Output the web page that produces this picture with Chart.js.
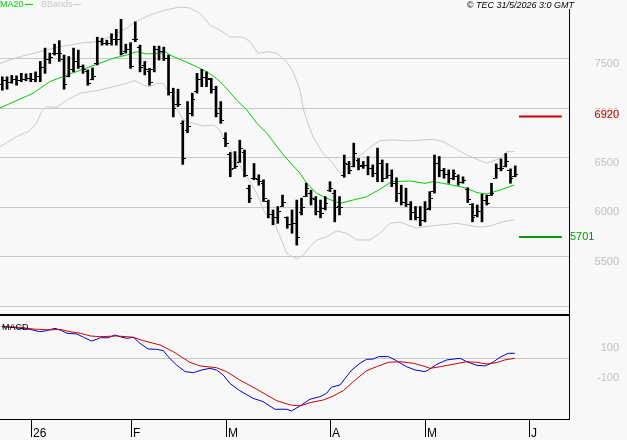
<!DOCTYPE html>
<html>
<head>
<meta charset="utf-8">
<script src="https://cdn.jsdelivr.net/npm/chart.js@4"></script>
<style>
  html, body { margin: 0; padding: 0; background: #f8f8f8; }
  #wrap { position: relative; width: 627px; height: 440px; overflow: hidden; }
  canvas { position: absolute; left: 0; }
  #main { top: 0; }
  #macd { top: 314px; }
</style>
</head>
<body>
<div id="wrap">
  <canvas id="main" width="627" height="314"></canvas>
  <canvas id="macd" width="627" height="126"></canvas>
</div>
<script>
// daily OHLC, one entry per trading day (index 0 = late Dec 2025)
const opens = [7250,7290,7270,7300,7290,7300,7310,7300,7330,7420,7500,7560,7560,7500,7330,7400,7480,7430,7380,7300,
  7460,7680,7660,7660,7700,7700,7580,7600,7700,7620,7440,7380,7400,7600,7580,7510,7170,7050,6850,6780,
  6950,7180,7300,7320,7300,7200,7000,6700,6540,6400,6460,6560,6200,6300,6290,6250,6070,5930,5900,6020,
  5900,5830,5840,5950,6120,6150,6090,5960,5990,6180,6150,6020,6330,6440,6420,6480,6430,6430,6400,6350,
  6450,6300,6330,6250,6150,6060,6040,5950,5900,5870,5990,6170,6450,6380,6340,6300,6320,6260,6190,6040,
  5920,5960,6080,6130,6300,6400,6420,6380,6320];
const highs = [7320,7320,7335,7330,7355,7350,7355,7370,7475,7610,7560,7650,7685,7540,7525,7610,7590,7440,7390,7410,
  7720,7710,7690,7755,7800,7900,7650,7665,7875,7640,7475,7405,7630,7630,7620,7540,7205,7195,6875,7070,
  7155,7355,7395,7370,7305,7225,7070,6755,6555,6565,6680,6580,6225,6445,6330,6280,6075,5975,6010,6125,
  5905,5975,6075,6095,6245,6175,6110,6075,6110,6260,6175,6110,6530,6465,6650,6495,6465,6515,6430,6600,
  6480,6445,6380,6300,6225,6195,6060,6010,6010,6060,6160,6530,6515,6395,6380,6380,6330,6310,6200,6040,
  6025,6135,6125,6245,6440,6490,6545,6390,6420];
const lows = [7185,7195,7255,7235,7270,7280,7270,7270,7270,7355,7455,7540,7475,7195,7320,7370,7405,7355,7235,7290,
  7440,7640,7640,7640,7640,7540,7560,7405,7675,7370,7340,7235,7370,7490,7485,7135,6915,7020,6435,6755,
  6925,7155,7220,7220,7155,6915,6850,6615,6310,6395,6455,6310,6050,6280,6225,6060,5895,5825,5840,6010,
  5790,5740,5620,5925,6110,6025,5925,5895,5975,6160,5855,5925,6305,6340,6410,6380,6395,6330,6310,6260,
  6260,6295,6210,6060,6025,6010,5875,5875,5815,5855,5975,6145,6310,6295,6245,6280,6225,6245,6050,5855,
  5905,5855,6025,6120,6295,6370,6410,6245,6310];
const closes = [7290,7270,7300,7290,7300,7310,7300,7330,7420,7500,7520,7560,7560,7250,7400,7480,7430,7400,7260,7330,
  7680,7660,7660,7700,7700,7560,7600,7430,7700,7420,7400,7270,7600,7580,7510,7170,7000,7050,6500,6820,
  7100,7300,7320,7310,7200,6950,6880,6650,6390,6420,6600,6330,6100,6300,6270,6100,5930,5900,5960,6060,
  5830,5840,5700,6000,6200,6100,5960,5940,6050,6200,6000,6000,6450,6380,6550,6420,6430,6400,6350,6450,
  6300,6330,6250,6150,6060,6040,5950,5900,5870,5980,6100,6450,6380,6340,6300,6350,6260,6280,6090,5900,
  5960,6080,6050,6150,6400,6400,6470,6300,6340];

// [day index, value]
const ma20 = [[-0.5,7005],[6.5,7154],[10,7271],[13.6,7338],[17,7396],[19.9,7447],[23.3,7507],[26.2,7540],[28.3,7574],
  [30.4,7551],[33.2,7558],[34.3,7574],[35.3,7540],[37.4,7497],[40.9,7422],[43,7372],[45.1,7305],[47.2,7204],
  [49.3,7086],[51.5,6985],[53.6,6851],[55.7,6750],[59.2,6530],[62.7,6345],[64.1,6244],[66.2,6143],[68.3,6093],
  [71.1,6042],[73.9,6076],[76.7,6109],[79.5,6184],[82,6261],[85.8,6268],[89,6244],[90.7,6261],[92.8,6244],
  [95.7,6217],[97.8,6194],[99.9,6150],[102,6136],[103,6150],[104.8,6177],[107.8,6227]];
const bbUpper = [[-0.5,7457],[3.7,7523],[7.9,7574],[12.1,7624],[16.4,7659],[19.9,7675],[22.7,7725],[26.2,7810],
  [27.9,7874],[31.1,7944],[34.3,7995],[37.4,8025],[39.5,8015],[41.6,7962],[43.7,7843],[45.8,7793],[47.9,7725],
  [50.7,7719],[52.2,7675],[53.8,7558],[55.9,7574],[57.8,7558],[59.9,7473],[61.2,7372],[62.7,7187],[63.3,7005],
  [64.1,6884],[65.4,6715],[67.5,6547],[69.6,6446],[71.1,6345],[72.5,6396],[74.6,6497],[76.7,6581],[79.5,6675],
  [82.2,6682],[85.8,6672],[90.7,6689],[92.8,6665],[97.8,6530],[102,6446],[104.8,6497],[106.2,6564],[107.9,6564]];
const bbLower = [[-0.5,6614],[3,6715],[5.8,6776],[7.2,6851],[8.3,6968],[9.3,7018],[11.5,7012],[13.6,7086],
  [16.4,7154],[20.6,7187],[23.3,7220],[26.2,7255],[27.9,7283],[29.7,7237],[31.1,7220],[32.5,7255],[33.9,7255],
  [35,7170],[36,7053],[38.1,6884],[40.2,6851],[42.3,6823],[44.4,6833],[45.8,6783],[47.2,6649],[49.3,6480],
  [51.5,6311],[53.6,6143],[55.3,5941],[57.1,5874],[59.9,5537],[62,5480],[63.4,5520],[64.8,5604],[66.2,5672],
  [68.3,5705],[70.4,5763],[72.5,5739],[74.6,5672],[77.4,5672],[79.5,5739],[81.6,5840],[83.7,5854],[87.2,5790],
  [88.6,5806],[92.2,5823],[95.7,5840],[97.8,5823],[100.6,5800],[102.7,5813],[105.5,5857],[107.8,5874]];

const resistance = 6920;
const support = 5701;
const levelSpan = [108.8, 117.8];

const macdLine = [[-0.1,211],[1.6,207],[3.7,200],[5.8,193],[7.9,177],[9.3,184],[11.1,200],[12.5,184],[13.6,167],
  [15.7,162],[17.1,140],[18.8,115],[19.9,127],[20.6,137],[22.3,137],[23.7,155],[24.8,144],[26.2,133],[27.6,140],
  [29,100],[30.7,62],[32.5,60],[33.9,51],[34.9,11],[36.7,-45],[38.5,-89],[40.2,-96],[42,-78],[43.7,-67],[45.1,-78],
  [46.5,-111],[47.9,-167],[50,-216],[52.8,-267],[54.9,-289],[57.4,-340],[59.9,-340],[60.9,-351],[62.7,-318],
  [64.8,-273],[66.9,-256],[68.3,-233],[69.3,-193],[71.1,-178],[72.2,-133],[73.6,-78],[75.3,-33],[76.7,-7],
  [78.1,-5],[79.2,11],[81.3,11],[82.7,-11],[85.1,-56],[86.9,-78],[89,-89],[89.7,-78],[91.5,-40],[93.6,-11],
  [96.4,0],[97.8,-23],[99.9,-47],[101.6,-51],[103,-33],[104.8,7],[106.5,33],[107.9,33]];
const signalLine = [[-0.1,211],[3.7,207],[6.5,195],[10,189],[12.1,193],[14.3,177],[16.4,167],[18.5,149],[20.6,144],
  [24.1,149],[27.6,140],[29.7,117],[33.2,89],[36,44],[39.5,-27],[41.6,-51],[45.1,-63],[47.2,-89],[50,-145],
  [53.6,-207],[55.7,-245],[57.8,-283],[60.6,-311],[62.7,-318],[64.8,-296],[67.6,-278],[69.7,-251],[71.8,-216],
  [73.9,-156],[76.7,-83],[78.8,-56],[81.3,-27],[83.7,-23],[86.5,-33],[88.6,-51],[90.1,-67],[92.2,-56],[94.9,-40],
  [97.8,-23],[99.9,-27],[102,-38],[104.1,-29],[105.8,-11],[107.9,0]];

const priceGrid = [5000, 5500, 6000, 6500, 7000, 7500];
const priceLabels = ['', '5500', '6000', '6500', '7000', '7500'];
const macdLabels = [100, -100];
const monthIdx = [6, 27, 47, 69, 89, 111];
const monthLabels = ['26', 'F', 'M', 'A', 'M', 'J'];

const X_MIN = -0.484, X_MAX = 119.32;
const FONT = "'Liberation Sans', Arial, sans-serif";
const pts = arr => arr.map(([x, y]) => ({ x, y }));

// open tick on the left, close tick on the right of each bar
const ohlcTicks = {
  id: 'ohlcTicks',
  afterDatasetsDraw(chart) {
    const { ctx, scales: { x, y } } = chart;
    ctx.save();
    ctx.fillStyle = '#000';
    opens.forEach((o, i) => {
      const px = Math.round(x.getPixelForValue(i));
      ctx.fillRect(px - 3, Math.round(y.getPixelForValue(o)), 2, 1);
      ctx.fillRect(px + 1, Math.round(y.getPixelForValue(closes[i])), 2, 1);
    });
    ctx.restore();
  }
};

const mainDecor = {
  id: 'mainDecor',
  afterDraw(chart) {
    const { ctx, scales: { y } } = chart;
    ctx.save();
    ctx.fillStyle = '#000';
    ctx.fillRect(569, 9, 1, 305);

    ctx.font = '11px ' + FONT;
    ctx.textBaseline = 'middle';
    ctx.textAlign = 'right';
    ctx.fillStyle = '#c0c0c0';
    priceGrid.forEach((v, i) => {
      if (priceLabels[i]) ctx.fillText(priceLabels[i], 619, y.getPixelForValue(v) + 4.5);
    });
    ctx.fillStyle = '#cc0000';
    ctx.fillText(String(resistance), 619, y.getPixelForValue(resistance) - 1);
    ctx.textAlign = 'left';
    ctx.fillStyle = '#009900';
    ctx.fillText(String(support), 570, y.getPixelForValue(support));

    // header
    ctx.font = '9px ' + FONT;
    ctx.fillStyle = '#00cc00';
    ctx.fillText('MA20', 0, 5);
    ctx.fillRect(25, 4, 8, 1);
    ctx.fillStyle = '#c8c8c8';
    ctx.fillText('BBands', 41, 5);
    ctx.fillRect(73, 4, 8, 1);
    ctx.fillStyle = '#000';
    ctx.font = 'italic 9px ' + FONT;
    ctx.textAlign = 'right';
    ctx.fillText('\u00a9 TEC 31/5/2026 3:0 GMT', 574, 5);
    ctx.restore();
  }
};

const macdDecor = {
  id: 'macdDecor',
  afterDraw(chart) {
    const { ctx, scales: { x, y }, chartArea } = chart;
    const bottom = Math.round(chartArea.bottom);
    ctx.save();
    ctx.fillStyle = '#000';
    ctx.fillRect(0, 0, 570, 2);
    ctx.fillRect(0, bottom, 570, 1);
    ctx.fillRect(569, 0, 1, bottom + 1);
    ctx.font = '12px ' + FONT;
    ctx.textAlign = 'left';
    ctx.textBaseline = 'alphabetic';
    monthIdx.forEach((m, i) => {
      const px = Math.round(x.getPixelForValue(m));
      ctx.fillRect(px, bottom, 1, 18);
      ctx.fillText(monthLabels[i], px + 2, bottom + 18);
    });
    ctx.font = '9px ' + FONT;
    ctx.textBaseline = 'middle';
    ctx.fillText('MACD', 2, 14);
    ctx.font = '11px ' + FONT;
    ctx.textAlign = 'right';
    ctx.fillStyle = '#c0c0c0';
    macdLabels.forEach(v => ctx.fillText(String(v), 619, y.getPixelForValue(v) + 5));
    ctx.restore();
  }
};

const lineDs = (data, color, width, order) => ({
  type: 'line', data: pts(data), borderColor: color, borderWidth: width,
  pointRadius: 0, tension: 0, fill: false, order
});

new Chart(document.getElementById('main'), {
  type: 'bar',
  data: {
    datasets: [
      { type: 'bar', data: highs.map((h, i) => ({ x: i, y: [lows[i], h] })),
        backgroundColor: '#000', barThickness: 2, order: 0 },
      { type: 'line', data: levelSpan.map(x => ({ x, y: resistance })), borderColor: '#cc0000',
        borderWidth: 2, pointRadius: 0, order: 0 },
      { type: 'line', data: levelSpan.map(x => ({ x, y: support })), borderColor: '#009900',
        borderWidth: 2, pointRadius: 0, order: 0 },
      lineDs(ma20, '#00cc00', 1, 1),
      lineDs(bbUpper, '#c8c8c8', 1, 2),
      lineDs(bbLower, '#c8c8c8', 1, 2)
    ]
  },
  options: {
    responsive: false,
    animation: false,
    layout: { padding: 0 },
    plugins: { legend: { display: false }, tooltip: { enabled: false } },
    scales: {
      x: { type: 'linear', min: X_MIN, max: X_MAX, offset: false, display: false },
      y: {
        position: 'right', min: 4924, max: 8096,
        afterBuildTicks: s => { s.ticks = priceGrid.map(v => ({ value: v })); },
        afterFit: s => { s.width = 58; },
        ticks: { display: false },
        grid: { color: '#c8c8c8', drawTicks: false },
        border: { display: false }
      }
    }
  },
  plugins: [ohlcTicks, mainDecor]
});

new Chart(document.getElementById('macd'), {
  type: 'line',
  data: {
    datasets: [
      lineDs(signalLine, '#cc0000', 1, 0),
      lineDs(macdLine, '#0000cc', 1, 1)
    ]
  },
  options: {
    responsive: false,
    animation: false,
    layout: { padding: { top: 2, bottom: 21 } },
    plugins: { legend: { display: false }, tooltip: { enabled: false } },
    scales: {
      x: { type: 'linear', min: X_MIN, max: X_MAX, offset: false, display: false },
      y: {
        position: 'right', min: -405, max: 282,
        afterBuildTicks: s => { s.ticks = [{ value: 0 }]; },
        afterFit: s => { s.width = 58; },
        ticks: { display: false },
        grid: { color: '#c8c8c8', drawTicks: false },
        border: { display: false }
      }
    }
  },
  plugins: [macdDecor]
});
</script>
</body>
</html>
